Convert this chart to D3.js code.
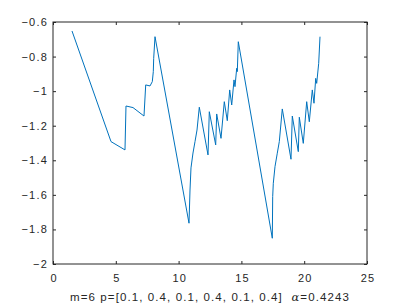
<!DOCTYPE html>
<html>
<head>
<meta charset="utf-8">
<script src="https://cdn.jsdelivr.net/npm/d3@7"></script>
<style>
  body { margin: 0; background: #fff; }
  svg { display: block; font-family: "Liberation Sans", Arial, sans-serif; }
</style>
</head>
<body>
<div id="chart"></div>
<script>
// curve values
var xs = [1.513, 4.618, 5.732, 5.812, 6.369, 7.245, 7.381, 7.723, 7.906, 7.986, 8.017, 8.121,
          10.828, 10.908, 10.987, 11.146, 11.306, 11.465, 11.648, 12.341, 12.444, 12.954, 13.033,
          13.376, 13.639, 13.877, 14.068, 14.228, 14.411, 14.490, 14.626, 14.674, 14.753,
          17.460, 17.492, 17.540, 17.675, 17.858, 18.018, 18.256, 18.949, 19.053, 19.530, 19.610,
          19.928, 20.199, 20.406, 20.645, 20.780, 20.916, 20.995, 21.154, 21.258];
var ys = [-0.652, -1.292, -1.340, -1.086, -1.095, -1.144, -0.964, -0.970, -0.945, -0.887, -0.810, -0.685,
          -1.764, -1.572, -1.444, -1.358, -1.292, -1.225, -1.093, -1.369, -1.119, -1.311, -1.132,
          -1.273, -1.061, -1.171, -0.993, -1.080, -0.935, -0.974, -0.868, -0.887, -0.714,
          -1.851, -1.610, -1.533, -1.437, -1.359, -1.292, -1.103, -1.394, -1.144, -1.350, -1.151,
          -1.302, -1.061, -1.177, -0.993, -1.070, -0.926, -0.955, -0.839, -0.685];
var xTicks = [0, 5, 10, 15, 20, 25];
var yTicks = [-2, -1.8, -1.6, -1.4, -1.2, -1, -0.8, -0.6];
var xLabel = "m=6 p=[0.1, 0.4, 0.1, 0.4, 0.1, 0.4]";
var alphaText = "=0.4243";

var margin = {top: 22, right: 40, bottom: 44, left: 53},
    width = 407 - margin.left - margin.right,
    height = 308 - margin.top - margin.bottom;

var svg = d3.select("#chart")
  .append("svg")
    .attr("width", 407)
    .attr("height", 308)
  .append("g")
    .attr("transform", "translate(" + margin.left + "," + margin.top + ")");

var x = d3.scaleLinear().domain([0, 25]).range([0, width]);
var y = d3.scaleLinear().domain([-2, -0.6]).range([height, 0]);

var axisColor = "#262626";

// box
svg.append("rect")
  .attr("width", width)
  .attr("height", height)
  .attr("fill", "none")
  .attr("stroke", axisColor)
  .attr("stroke-width", 1);

function styleAxis(g) {
  g.select(".domain").remove();
  g.selectAll(".tick line").attr("stroke", axisColor);
  g.selectAll(".tick text")
    .attr("fill", axisColor)
    .attr("font-size", "11px")
    .attr("letter-spacing", "1.2px")
    .attr("font-family", "Liberation Sans, Arial, sans-serif");
}

// bottom axis, inward ticks
svg.append("g")
  .attr("transform", "translate(0," + height + ")")
  .call(d3.axisBottom(x).tickValues(xTicks).tickSizeInner(-3).tickSizeOuter(0).tickPadding(10))
  .call(styleAxis)
  .selectAll(".tick text").attr("dx", "0.6px");

// top ticks
svg.append("g")
  .call(d3.axisTop(x).tickValues(xTicks).tickSizeInner(-3).tickSizeOuter(0).tickFormat(""))
  .call(styleAxis);

// left axis
svg.append("g")
  .call(d3.axisLeft(y).tickValues(yTicks).tickSizeInner(-3).tickSizeOuter(0).tickPadding(5)
    .tickFormat(function(d) { return d3.format("")(+d.toFixed(1)); }))
  .call(styleAxis);

// right ticks
svg.append("g")
  .attr("transform", "translate(" + width + ",0)")
  .call(d3.axisRight(y).tickValues(yTicks).tickSizeInner(-3).tickSizeOuter(0).tickFormat(""))
  .call(styleAxis);

// the curve
var pts = xs.map(function(d, i) { return [d, ys[i]]; });
svg.append("path")
  .datum(pts)
  .attr("fill", "none")
  .attr("stroke", "#0072BD")
  .attr("stroke-width", 1)
  .attr("stroke-linejoin", "round")
  .attr("d", d3.line()
    .x(function(d) { return x(d[0]); })
    .y(function(d) { return y(d[1]); }));

// x label
var lab = svg.append("text")
  .attr("x", width / 2)
  .attr("y", height + 37)
  .attr("text-anchor", "middle")
  .attr("fill", axisColor)
  .attr("font-size", "11.5px")
  .attr("letter-spacing", "1.1px");
lab.append("tspan").text(xLabel + "\u00a0\u00a0");
lab.append("tspan").attr("font-family", "DejaVu Serif, serif").attr("font-style", "italic").text("\u03b1");
lab.append("tspan").text(alphaText);
</script>
</body>
</html>
